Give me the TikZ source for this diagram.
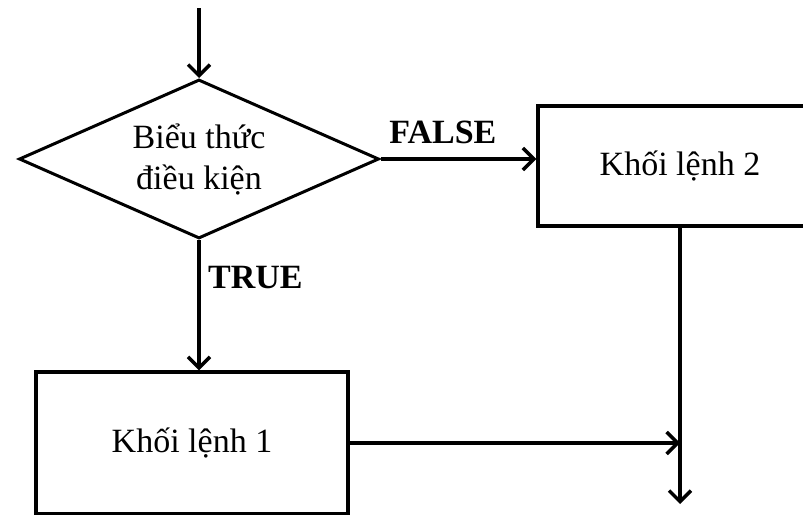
\documentclass[tikz,border=0pt]{standalone}
\usepackage{fontspec}
\setmainfont{Liberation Serif}
\usetikzlibrary{arrows.meta,positioning,shapes.geometric}

\begin{document}
\begin{tikzpicture}[x=1pt, y=1pt, >={Straight Barb[length=11pt,width=22pt]},
    every node/.style={font=\fontsize{34}{41}\selectfont},
    flow/.style={->, line width=3.5pt}]
    \clip (0,0) rectangle (803,-514);
    \useasboundingbox (0,0) rectangle (803,-514);

    % Condition vertex
    \node[diamond, draw, line width=3pt, minimum width=360pt, minimum height=159pt, aspect=2.26, inner sep=0pt, align=center] (cond) at (199,-159) {Biểu thức\\điều kiện};

    % Statement blocks
    \node[rectangle, draw, line width=3.5pt, minimum width=284pt, minimum height=120pt] (blk2) at (680,-166) {Khối lệnh 2};
    \node[rectangle, draw, line width=3.5pt, minimum width=312pt, minimum height=142pt] (blk1) at (192,-443) {Khối lệnh 1};

    % Entry and exit points
    \coordinate (entry) at (199,-8);
    \coordinate (exit) at (680,-504);

    % Arrows
    \draw[flow] (entry) -- (cond.north);
    \draw[flow] (cond.east) -- node[pos=0.4, above=10pt] {\textbf{FALSE}} (cond.east -| blk2.west);
    \draw[flow] (cond.south) -- node[pos=0.29, right=4pt] {\textbf{TRUE}} (cond.south |- blk1.north);
    \draw[flow] (blk2.south) -- (exit);
    \draw[flow] (blk1.east) -- (blk1.east -| blk2.south);
\end{tikzpicture}
\end{document}
